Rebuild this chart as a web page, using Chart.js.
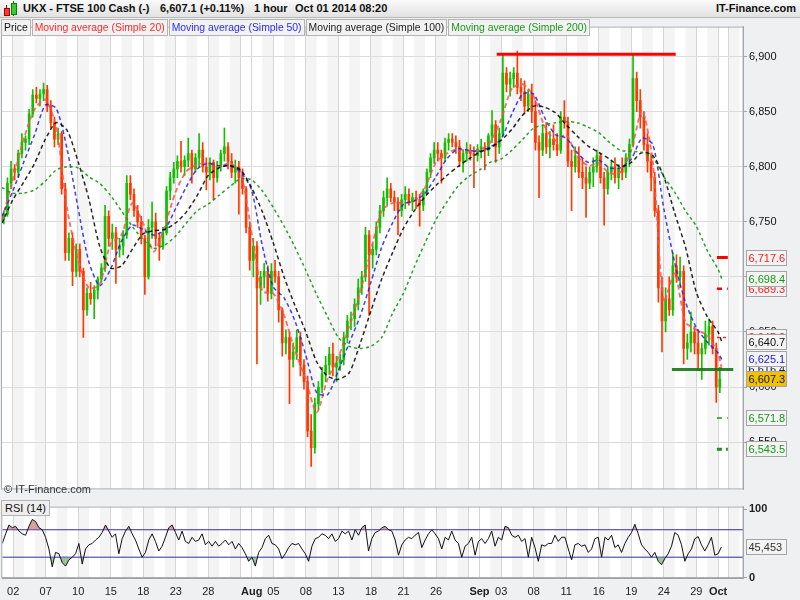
<!DOCTYPE html>
<html>
<head>
<meta charset="utf-8">
<title>UKX - FTSE 100 Cash</title>
<script src="https://cdn.jsdelivr.net/npm/chart.js@4.4.1/dist/chart.umd.min.js"></script>
<style>
  body { margin: 0; width: 800px; height: 600px; overflow: hidden; position: relative;
         background: #eef0f2; font-family: "Liberation Sans", Arial, sans-serif; }
  canvas { position: absolute; left: 0; }
  #main { top: 18px; }
  #rsi { top: 498px; }
  .head { position: absolute; left: 0; top: 0; width: 800px; height: 18px; box-sizing: border-box;
          background: linear-gradient(#fafafa, #e2e2e2); border-bottom: 1px solid #b9b9b9;
          font-size: 11px; font-weight: bold; color: #111; }
  .head span { position: absolute; top: 2px; white-space: nowrap; }
  .icon { position: absolute; }
  .legend { position: absolute; left: 1px; top: 19px; display: flex; gap: 1px; }
  .legend span { font-size: 10.4px; line-height: 15px; height: 15px; padding: 0 2px;
                 background: #f2f2f2; border: 1px solid #b3b3b3; white-space: nowrap; }
  .copy { position: absolute; left: 4px; top: 483px; font-size: 11px; color: #333; }
  .rsilabel { position: absolute; left: 1px; top: 500px; font-size: 11px; line-height: 14px; padding: 0 3px;
              background: #eeeeee; border: 1px solid #b3b3b3; color: #111; }
</style>
</head>
<body>
<div class="head">
  <div class="icon" style="left:6px;top:5px;width:1px;height:11px;background:#a00;"></div>
  <div class="icon" style="left:4px;top:8px;width:4px;height:6px;background:#e84040;border:1px solid #a00;"></div>
  <div class="icon" style="left:13px;top:1px;width:1px;height:15px;background:#080;"></div>
  <div class="icon" style="left:11px;top:3px;width:4px;height:10px;background:#3cc83c;border:1px solid #080;"></div>
  <span style="left:23px;">UKX - FTSE 100 Cash (-)</span>
  <span style="left:160px;">6,607.1 (+0.11%)</span>
  <span style="left:254px;">1 hour</span>
  <span style="left:295px;">Oct 01 2014 08:20</span>
  <span style="right:4px;">IT-Finance.com</span>
</div>
<canvas id="main" width="800" height="480"></canvas>
<canvas id="rsi" width="800" height="102"></canvas>
<div class="legend">
  <span style="color:#111;">Price</span>
  <span style="color:#ff2a2a;">Moving average (Simple 20)</span>
  <span style="color:#2a2aff;">Moving average (Simple 50)</span>
  <span style="color:#222;">Moving average (Simple 100)</span>
  <span style="color:#1a9a1a;">Moving average (Simple 200)</span>
</div>
<div class="copy">© IT-Finance.com</div>
<div class="rsilabel">RSI (14)</div>

<script>
// trading days Jul 1 - Oct 2 (date of month), one entry per day
const dayDates = [1,2,3,4,7,8,9,10,11,14,15,16,17,18,21,22,23,24,25,28,29,30,31,
  1,4,5,6,7,8,11,12,13,14,15,18,19,20,21,22,25,26,27,28,29,
  1,2,3,4,5,8,9,10,11,12,15,16,17,18,19,22,23,24,25,26,29,30,
  1,2];

// x axis ticks (in trading days) and their labels
const tickDays = [1,4,7,10,13,16,19,22,23,25,28,31,34,37,40,43,44,46,49,52,55,58,61,64,66,67];
const tickLabels = ['02','07','10','15','18','23','28','','Aug','05','08','13','18','21','26','','Sep','03','08','11','16','19','24','29','Oct',''];
const monthDays = [23, 44, 66];

// price bars, three per trading day
const opens = [
  6752,6757,6785, 6798,6795,6812, 6822,6825,6848, 6865,6862,6866, 6870,6855,6840, 6825,6830,6780,
  6722,6735,6705, 6725,6705,6670, 6685,6680,6688, 6698,6708,6755, 6735,6740,6725, 6728,6738,6785,
  6775,6760,6750, 6735,6700,6745, 6750,6735,6728, 6740,6778,6790, 6798,6805,6800, 6806,6812,6798,
  6808,6815,6800, 6795,6804,6790, 6800,6812,6818, 6805,6795,6800, 6790,6780,6745, 6715,6728,6690,
  6700,6705,6685, 6705,6700,6670, 6640,6645,6625, 6632,6645,6620, 6605,6560,6545, 6585,6600,6612,
  6620,6630,6618, 6622,6625,6645, 6660,6662,6675, 6690,6700,6738, 6720,6725,6745, 6760,6772,6780,
  6772,6768,6760, 6770,6775,6768, 6772,6770,6765, 6778,6795,6808, 6815,6812,6808, 6822,6825,6822,
  6818,6805,6812, 6815,6812,6810, 6816,6818,6815, 6828,6838,6818, 6830,6885,6875, 6880,6885,6872,
  6868,6855,6866, 6850,6822,6815, 6830,6818,6825, 6820,6815,6845, 6840,6805,6800, 6810,6795,6790,
  6785,6795,6800, 6810,6790,6780, 6795,6800,6790, 6798,6795,6808, 6820,6880,6860, 6845,6820,6805,
  6790,6760,6690, 6660,6680,6670, 6710,6700,6705, 6635,6640,6650, 6640,6630,6635, 6648,6655,6635,
  6600];
const highs = [
  6760,6790,6805, 6802,6815,6830, 6828,6852,6870, 6872,6870,6876, 6874,6860,6845, 6835,6832,6785,
  6740,6740,6730, 6730,6708,6690, 6695,6692,6700, 6712,6765,6760, 6748,6745,6735, 6742,6792,6792,
  6780,6765,6755, 6738,6752,6768, 6758,6740,6745, 6782,6795,6804, 6810,6823,6810, 6826,6815,6812,
  6830,6822,6808, 6808,6806,6805, 6815,6835,6822, 6812,6806,6805, 6798,6782,6750, 6735,6732,6705,
  6712,6710,6712, 6715,6705,6672, 6652,6650,6640, 6652,6650,6625, 6610,6575,6590, 6605,6618,6628,
  6636,6640,6628, 6630,6650,6665, 6668,6680,6698, 6705,6745,6742, 6730,6750,6765, 6778,6790,6785,
  6778,6772,6775, 6782,6780,6776, 6778,6775,6780, 6798,6812,6822, 6822,6815,6826, 6830,6830,6828,
  6824,6815,6822, 6820,6818,6820, 6825,6822,6830, 6851,6842,6835, 6902,6890,6886, 6890,6905,6880,
  6878,6870,6875, 6860,6828,6838, 6840,6832,6838, 6830,6850,6860, 6845,6815,6818, 6818,6808,6800,
  6800,6808,6815, 6812,6795,6800, 6805,6808,6802, 6808,6812,6825, 6902,6886,6870, 6850,6830,6812,
  6795,6765,6700, 6690,6700,6722, 6720,6718,6710, 6648,6668,6655, 6652,6640,6660, 6662,6660,6640,
  6618];
const lows = [
  6748,6755,6780, 6788,6790,6808, 6815,6820,6845, 6858,6855,6860, 6850,6835,6818, 6820,6775,6715,
  6715,6692,6700, 6700,6645,6665, 6675,6662,6680, 6695,6705,6728, 6725,6694,6718, 6720,6735,6770,
  6755,6745,6730, 6684,6698,6735, 6728,6715,6725, 6738,6770,6785, 6790,6795,6792, 6800,6785,6795,
  6800,6795,6779, 6788,6770,6786, 6796,6805,6798, 6790,6785,6757, 6775,6740,6706, 6700,6621,6675,
  6690,6678,6680, 6695,6659,6628, 6630,6585,6618, 6625,6610,6598, 6555,6528,6540, 6580,6595,6605,
  6612,6610,6605, 6615,6620,6640, 6652,6655,6670, 6684,6696,6665, 6708,6720,6740, 6755,6765,6768,
  6760,6738,6755, 6762,6765,6760, 6762,6746,6760, 6775,6790,6803, 6805,6785,6805, 6815,6818,6812,
  6800,6795,6805, 6806,6781,6805, 6808,6797,6810, 6822,6804,6812, 6828,6868,6864, 6872,6866,6860,
  6848,6850,6840, 6815,6772,6810, 6812,6808,6815, 6810,6812,6835, 6800,6760,6795, 6790,6780,6754,
  6780,6782,6795, 6785,6747,6775, 6788,6785,6780, 6788,6790,6800, 6818,6850,6835, 6815,6795,6778,
  6755,6677,6632, 6650,6665,6665, 6695,6690,6621, 6625,6632,6630, 6615,6607,6630, 6638,6630,6586,
  6595];
const closes = [
  6757,6785,6798, 6795,6812,6822, 6825,6848,6865, 6862,6866,6870, 6855,6840,6825, 6830,6780,6722,
  6735,6705,6725, 6705,6670,6685, 6680,6688,6698, 6708,6755,6735, 6740,6725,6728, 6738,6785,6775,
  6760,6750,6735, 6700,6745,6750, 6735,6728,6740, 6778,6790,6798, 6805,6800,6806, 6812,6798,6808,
  6815,6800,6795, 6804,6790,6800, 6812,6818,6805, 6795,6800,6790, 6780,6745,6715, 6728,6690,6700,
  6705,6685,6705, 6700,6670,6640, 6645,6625,6632, 6645,6620,6605, 6560,6545,6585, 6600,6612,6620,
  6630,6618,6622, 6625,6645,6660, 6662,6675,6690, 6700,6738,6720, 6725,6745,6760, 6772,6780,6772,
  6768,6760,6770, 6775,6768,6772, 6770,6765,6778, 6795,6808,6815, 6812,6808,6822, 6825,6822,6818,
  6805,6812,6815, 6812,6810,6816, 6818,6815,6828, 6838,6818,6830, 6885,6875,6880, 6885,6872,6868,
  6855,6866,6850, 6822,6815,6830, 6818,6825,6820, 6815,6845,6840, 6805,6800,6810, 6795,6790,6785,
  6795,6800,6810, 6790,6780,6795, 6800,6790,6798, 6795,6808,6820, 6880,6860,6845, 6820,6805,6790,
  6760,6690,6660, 6680,6670,6710, 6700,6705,6635, 6640,6650,6640, 6630,6635,6648, 6655,6635,6600,
  6607];

// moving averages, read at the start of each trading day plus the last bar
const sma20 = [6752,6788,6825,6852,6861,6836,6762,6716,6690,6693,6730,6738,6767,6749,6723,6746,6777,6796,6802,6803,6800,6803,6795,
  6741,6687,6685,6665,6633,6607,6577,6607,6627,6655,6686,6724,6760,6767,6767,6769,6781,6804,6812,6816,6814,6815,6822,
  6843,6871,6875,6864,6837,6824,6829,6810,6801,6803,6794,6795,6815,6851,6803,6678,6703,6659,6652,6647,6630,6616];
const sma50 = [6755,6778,6804,6829,6856,6853,6816,6763,6714,6692,6707,6732,6747,6743,6738,6743,6762,6782,6798,6803,6801,6801,6795,
  6779,6728,6691,6681,6660,6629,6595,6593,6615,6640,6664,6695,6727,6749,6766,6769,6776,6791,6807,6816,6815,6814,6818,
  6825,6848,6866,6866,6845,6829,6826,6813,6804,6806,6799,6799,6807,6826,6820,6762,6713,6677,6654,6641,6631,6625];
const sma100 = [6749,6770,6786,6803,6825,6840,6833,6805,6771,6728,6708,6710,6725,6739,6742,6743,6749,6759,6774,6792,6799,6801,6797,
  6781,6759,6731,6700,6674,6650,6623,6610,6607,6613,6639,6669,6698,6722,6744,6760,6773,6783,6792,6800,6807,6813,6817,
  6824,6834,6847,6855,6854,6849,6838,6828,6819,6813,6807,6800,6804,6813,6810,6791,6758,6727,6686,6664,6650,6641];
const sma200 = [6781,6776,6776,6779,6787,6797,6800,6799,6791,6785,6774,6760,6746,6734,6726,6729,6737,6749,6760,6766,6774,6782,6789,
  6788,6778,6763,6746,6727,6706,6684,6664,6645,6637,6635,6637,6645,6667,6685,6709,6731,6752,6768,6782,6791,6797,6804,
  6807,6815,6825,6835,6838,6840,6841,6840,6836,6831,6822,6815,6814,6813,6808,6791,6777,6760,6746,6724,6707,6698];
const maDays = Array.from({ length: 67 }, (_, d) => d).concat([66.35]);

// drawn levels
const resistanceDays = [45.6, 62.1], resistanceLevel = 6902;
const supportDays = [61.75, 67.4], supportLevel = 6616;
const pivotDays = [65.9, 66.9];
const pivotLevels = [6717.6, 6689.3, 6645.0, 6571.8, 6543.5];

// value tags on the price axis
const tagValues = [6717.6, 6689.3, 6698.4, 6645.0, 6640.7, 6616.4, 6625.1, 6607.3, 6571.8, 6543.5];
const tagColors = ['#ff1a1a', '#ff1a1a', '#129912', '#ff1a1a', '#111', '#222', '#1a1ae0', '#111', '#129912', '#129912'];
const tagFills = ['#f4f4f4', '#f4f4f4', '#f4f4f4', '#f4f4f4', '#f4f4f4', '#f4f4f4', '#f4f4f4', '#f2c200', '#f4f4f4', '#f4f4f4'];

// RSI (14), sampled about every 0.3 trading day
const rsi = [
  50,64,77,73,75,68,64,62,75,85, 82,73,70,59,42,16,37,35,22,17,
  26,30,35,50,20,42,48,50,55,59, 66,77,68,59,64,35,57,68,75,64,
  55,42,30,37,55,64,53,39,46,59, 73,77,66,55,68,53,50,59,53,55,
  64,48,53,46,53,46,50,55,48,53, 42,50,44,35,24,30,17,37,44,57,
  62,50,48,42,28,35,44,50,48,50, 42,35,24,46,57,59,64,62,57,64,
  53,57,68,64,68,55,70,62,73,77, 39,57,66,68,73,75,70,68,55,33,
  48,55,59,57,62,66,44,55,64,70, 64,57,42,59,55,68,55,50,30,46,
  50,59,33,53,57,50,57,68,46,59, 55,75,73,62,59,62,53,57,30,59,
  44,24,48,46,50,50,62,53,59,59, 42,26,48,50,46,48,37,42,57,59,
  30,59,55,62,44,48,37,50,59,66, 78,64,48,42,37,30,37,24,19,28,
  35,46,66,62,48,24,35,42,57,60, 48,39,48,59,33,35,45];
const rsiStep = 0.307;
const rsiLast = 45.453;

const xMax = 68.3;
const upColor = '#12c000';
const downColor = '#ff3a00';

Chart.defaults.font.family = '"Liberation Sans", Arial, sans-serif';
Chart.defaults.font.size = 11;
Chart.defaults.color = '#111';

// white plot, alternating day bands, panel border
const panelPlugin = {
  id: 'panel',
  beforeDraw(chart) {
    const { ctx, chartArea: a, scales: { x } } = chart;
    ctx.save();
    ctx.fillStyle = '#ffffff';
    ctx.fillRect(a.left, a.top, a.width, a.height);
    ctx.fillStyle = '#f4f4f4';
    dayDates.forEach((date, d) => {
      if (date % 2 === 0) {
        const x0 = x.getPixelForValue(d);
        const x1 = Math.min(x.getPixelForValue(d + 1), a.right);
        ctx.fillRect(x0, a.top, x1 - x0, a.height);
      }
    });
    ctx.restore();
  },
  afterDraw(chart) {
    const { ctx, chartArea: a } = chart;
    ctx.save();
    ctx.strokeStyle = '#a9adb2';
    ctx.lineWidth = 1;
    ctx.strokeRect(a.left - 0.5, a.top + 0.5, a.width + 0.5, a.height - 1);
    ctx.restore();
  }
};

function drawTag(ctx, left, y, text, color, fill) {
  const top = Math.round(y) - 7.5;
  ctx.fillStyle = fill;
  ctx.fillRect(left + 0.5, top, 40, 15);
  ctx.strokeStyle = '#a4a4a4';
  ctx.strokeRect(left + 0.5, top, 40, 15);
  ctx.fillStyle = color;
  ctx.fillText(text, left + 2.5, Math.round(y) + 0.5);
}

const tagPlugin = {
  id: 'tags',
  afterDraw(chart) {
    const { ctx, chartArea: a, scales: { y } } = chart;
    ctx.save();
    ctx.font = '11px "Liberation Sans", Arial, sans-serif';
    ctx.textBaseline = 'middle';
    tagValues.forEach((v, i) => {
      const txt = v.toLocaleString('en-US', { minimumFractionDigits: 1, maximumFractionDigits: 1 });
      drawTag(ctx, a.right + 3, y.getPixelForValue(v), txt, tagColors[i], tagFills[i]);
    });
    ctx.restore();
  }
};

const rsiTagPlugin = {
  id: 'rsiTag',
  afterDraw(chart) {
    const { ctx, chartArea: a, scales: { y } } = chart;
    ctx.save();
    ctx.font = '11px "Liberation Sans", Arial, sans-serif';
    ctx.textBaseline = 'middle';
    drawTag(ctx, a.right + 3, y.getPixelForValue(rsiLast), rsiLast.toFixed(3).replace('.', ','), '#333', '#f4f4f4');
    ctx.restore();
  }
};

const barX = i => i / 3 + 1 / 6;
const barColors = closes.map((c, i) => (c >= opens[i] ? upColor : downColor));

function maLine(values, color, dash, width) {
  return {
    type: 'line',
    data: values.map((v, i) => ({ x: maDays[i], y: v })),
    borderColor: color, borderWidth: width, borderDash: dash,
    pointRadius: 0, fill: false, tension: 0.25, order: 1
  };
}

function levelLine(days, level, color, width, dash) {
  return {
    type: 'line',
    data: days.map(d => ({ x: d, y: level })),
    borderColor: color, borderWidth: width, borderDash: dash,
    pointRadius: 0, fill: false, order: 0
  };
}

const pivotColors = ['#ff0000', '#ff0000', '#ff2020', '#129912', '#129912'];
const pivotWidths = [3, 2.5, 1.5, 1.5, 3];
const pivotDashes = [[], [5, 5], [3, 3], [5, 5], [5, 4]];

new Chart(document.getElementById('main'), {
  type: 'bar',
  data: {
    datasets: [
      {
        data: highs.map((h, i) => ({ x: barX(i), y: [lows[i], h] })),
        backgroundColor: barColors, barThickness: 1, grouped: false, order: 10
      },
      {
        data: opens.map((o, i) => ({ x: barX(i), y: [Math.min(o, closes[i]), Math.max(o, closes[i])] })),
        backgroundColor: barColors, barThickness: 2, minBarLength: 1, grouped: false, order: 9
      },
      maLine(sma200, 'rgba(20,150,20,0.9)', [3, 3], 1.5),
      maLine(sma100, 'rgba(0,0,0,0.85)', [4, 3], 1.5),
      maLine(sma50, 'rgba(30,30,240,0.85)', [4, 3], 1.5),
      maLine(sma20, 'rgba(255,80,80,0.85)', [5, 3], 1.8),
      levelLine(resistanceDays, resistanceLevel, '#ff0000', 3, []),
      levelLine(supportDays, supportLevel, 'rgba(20,120,20,0.9)', 3, []),
      ...pivotLevels.map((lv, i) => levelLine(pivotDays, lv, pivotColors[i], pivotWidths[i], pivotDashes[i]))
    ]
  },
  options: {
    responsive: false,
    animation: false,
    devicePixelRatio: 1,
    layout: { padding: { left: 2, top: 0, right: 0, bottom: 1 } },
    plugins: { legend: { display: false }, tooltip: { enabled: false } },
    scales: {
      x: {
        type: 'linear', min: 0, max: xMax, offset: false,
        afterBuildTicks: s => { s.ticks = tickDays.map(v => ({ value: v })); },
        afterFit: s => { s.height = 0; },
        ticks: { display: false },
        grid: { color: '#d6d6d6', drawTicks: false, offset: false },
        border: { display: false }
      },
      y: {
        position: 'right', min: 6507.1, max: 6927.2,
        afterFit: s => { s.width = 57; },
        ticks: {
          stepSize: 50, includeBounds: false, padding: 2, color: '#111',
          callback: v => v.toLocaleString('en-US')
        },
        grid: { color: '#dcdcdc', tickColor: '#9ea3a8', tickLength: 4 },
        border: { color: '#9ea3a8' }
      }
    }
  },
  plugins: [panelPlugin, tagPlugin]
});

const rsiPoints = rsi.map((v, i) => ({ x: i * rsiStep, y: v }));

new Chart(document.getElementById('rsi'), {
  type: 'line',
  data: {
    datasets: [
      {
        data: rsiPoints, borderColor: '#111', borderWidth: 1, pointRadius: 0, tension: 0,
        fill: { target: { value: 70 }, above: 'rgba(200,120,120,0.7)', below: 'rgba(0,0,0,0)' }
      },
      {
        data: rsiPoints, borderColor: 'rgba(0,0,0,0)', borderWidth: 0, pointRadius: 0, tension: 0,
        fill: { target: { value: 30 }, above: 'rgba(0,0,0,0)', below: 'rgba(120,170,120,0.7)' }
      },
      { data: [{ x: 0, y: 70 }, { x: xMax, y: 70 }], borderColor: '#2b2ba8', borderWidth: 1, pointRadius: 0 },
      { data: [{ x: 0, y: 30 }, { x: xMax, y: 30 }], borderColor: '#2b2ba8', borderWidth: 1, pointRadius: 0 }
    ]
  },
  options: {
    responsive: false,
    animation: false,
    devicePixelRatio: 1,
    layout: { padding: { left: 2, top: 2, right: 0, bottom: 0 } },
    plugins: { legend: { display: false }, tooltip: { enabled: false } },
    scales: {
      x: {
        type: 'linear', min: 0, max: xMax, offset: false,
        afterBuildTicks: s => { s.ticks = tickDays.map(v => ({ value: v })); },
        afterFit: s => { s.height = 22; },
        ticks: {
          autoSkip: false, maxRotation: 0, padding: 7, color: '#222',
          font: c => ({ size: 11, weight: c.tick && monthDays.includes(c.tick.value) ? 'bold' : 'normal' }),
          callback: (v, i) => tickLabels[i]
        },
        grid: { color: '#d6d6d6', drawTicks: false },
        border: { color: '#9ea3a8' }
      },
      y: {
        position: 'right', min: -0.3, max: 103.7,
        afterFit: s => { s.width = 57; },
        afterBuildTicks: s => { s.ticks = [{ value: 0 }, { value: 100 }]; },
        ticks: { padding: 2, color: '#222', font: { size: 11, weight: 'bold' } },
        grid: { drawOnChartArea: false, tickColor: '#9ea3a8', tickLength: 4 },
        border: { color: '#9ea3a8' }
      }
    }
  },
  plugins: [panelPlugin, rsiTagPlugin]
});
</script>
</body>
</html>
